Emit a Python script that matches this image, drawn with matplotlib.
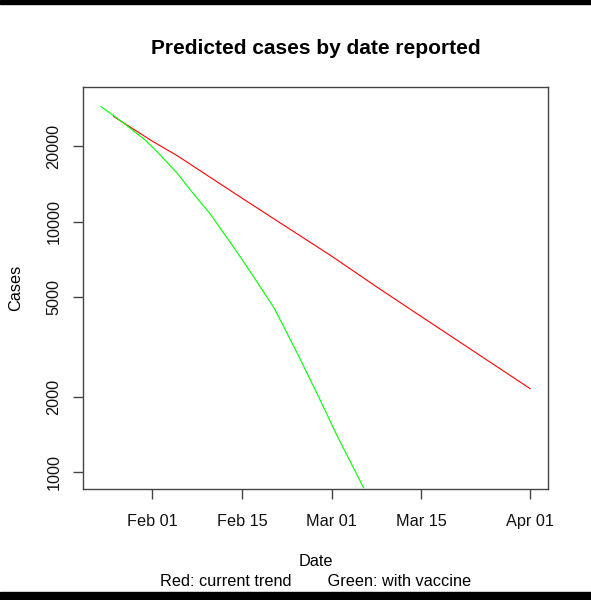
import matplotlib
matplotlib.use("Agg")
import matplotlib.pyplot as plt
import matplotlib.dates as mdates
import numpy as np

plt.rcParams['font.family'] = ['Liberation Sans', 'DejaVu Sans']

# ========== Data ==========
red_dates = np.array(['2021-01-26', '2021-02-01', '2021-02-05', '2021-02-15',
                      '2021-03-01', '2021-03-08', '2021-03-15', '2021-04-01'],
                     dtype='datetime64[D]')
red_cases = [26300, 21000, 18300, 12440, 7300, 5510, 4190, 2160]

green_dates = np.array(['2021-01-24', '2021-01-26', '2021-01-28', '2021-01-31',
                        '2021-02-02', '2021-02-05', '2021-02-07', '2021-02-10',
                        '2021-02-12', '2021-02-15', '2021-02-17', '2021-02-20',
                        '2021-02-22', '2021-02-24', '2021-02-27', '2021-03-02',
                        '2021-03-06'], dtype='datetime64[D]')
green_cases = [28830, 26500, 24280, 21100, 18770, 15540, 13360, 10800,
               9150, 7100, 5950, 4550, 3620, 2870, 2000, 1380, 870]

x_ticks = np.array(['2021-02-01', '2021-02-15', '2021-03-01', '2021-03-15',
                    '2021-04-01'], dtype='datetime64[D]')
y_ticks = [1000, 2000, 5000, 10000, 20000]

# ========== Figure ==========
fig = plt.figure(figsize=(5.91, 6.0), dpi=100)
ax = fig.add_axes([83 / 591, 1 - 488.5 / 600, 465 / 591, 401.5 / 600])

ax.plot(red_dates, red_cases, color='#ff0000', linewidth=0.8)
ax.plot(green_dates, green_cases, color='#00ff00', linewidth=0.8)

ax.set_yscale('log')
ax.set_xlim(np.datetime64('2021-01-21T05:00'), np.datetime64('2021-04-03T19:00'))
ax.set_ylim(863, 34500)

ax.set_xticks(x_ticks)
ax.xaxis.set_major_formatter(mdates.DateFormatter('%b %d'))
ax.set_yticks(y_ticks)
ax.set_yticklabels([str(v) for v in y_ticks], rotation=90, va='center')
ax.yaxis.set_minor_locator(matplotlib.ticker.NullLocator())

for s in ax.spines.values():
    s.set_color('#444444')
    s.set_linewidth(1.0)
ax.tick_params(axis='both', length=7.5, width=1.0, color='#444444',
               labelsize=11.7, labelcolor='#111111')
ax.tick_params(axis='x', pad=11)
ax.tick_params(axis='y', pad=8)

ax.set_title('Predicted cases by date reported', fontsize=15, fontweight='bold', pad=24)
ax.set_ylabel('Cases', fontsize=11.7, labelpad=17)

fig.text(315.5 / 591, 1 - 562 / 600, 'Date', ha='center', va='center', fontsize=11.7)
fig.text(315.5 / 591, 1 - 581.5 / 600, 'Red: current trend        Green: with vaccine',
         ha='center', va='center', fontsize=11.7)

# black bands top and bottom of the screenshot
fig.patches.append(plt.Rectangle((0, 1 - 4 / 600), 1, 4 / 600, transform=fig.transFigure,
                                 color='black', zorder=10))
fig.patches.append(plt.Rectangle((0, 0), 1, 8 / 600, transform=fig.transFigure,
                                 color='black', zorder=10))

fig.savefig('out.png', dpi=100)
